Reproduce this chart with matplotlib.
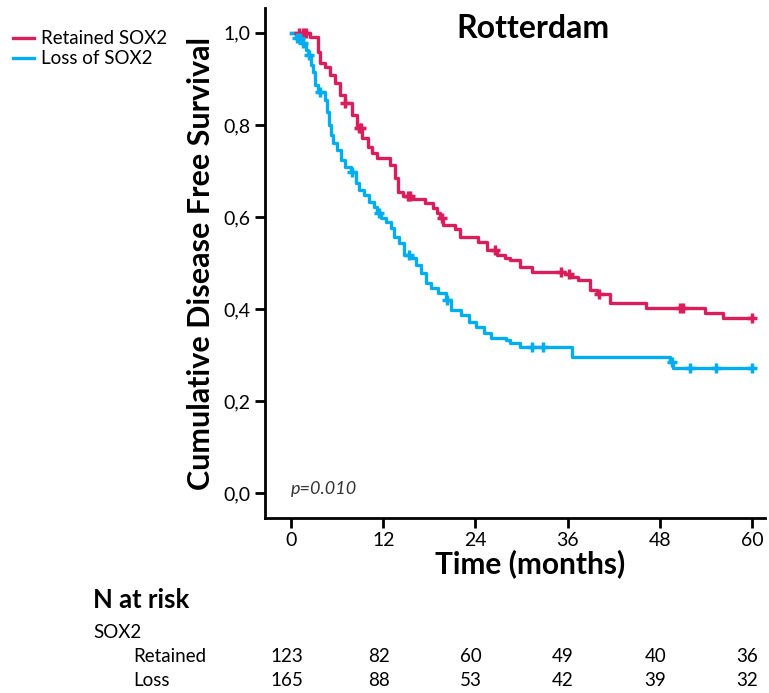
import numpy as np
import matplotlib.pyplot as plt
import matplotlib.transforms as mtransforms

plt.rcParams['font.family'] = ['Lato', 'DejaVu Sans']

# Kaplan-Meier step points (months, survival)
ret_t = [0, 2.5, 3.5, 3.8, 4.4, 5.1, 5.7, 6.4, 7.0, 7.9, 8.6, 9.2, 10.0, 10.5, 11.2,
         12.9, 13.5, 13.9, 14.6, 15.7, 17.4, 18.5, 19.0, 19.4, 19.8, 21.3, 22.0, 24.3,
         25.5, 26.8, 27.9, 28.5, 29.8, 31.4, 35.7, 36.3, 37.4, 38.9, 39.8, 41.5, 46.2,
         53.9, 56.2, 60]
ret_s = [1.0, 0.99, 0.959, 0.935, 0.926, 0.909, 0.891, 0.865, 0.848, 0.822, 0.793, 0.772,
         0.752, 0.739, 0.728, 0.713, 0.685, 0.654, 0.646, 0.639, 0.630, 0.620, 0.609,
         0.598, 0.583, 0.574, 0.557, 0.546, 0.528, 0.517, 0.511, 0.507, 0.491, 0.480,
         0.476, 0.470, 0.463, 0.441, 0.433, 0.413, 0.402, 0.391, 0.380, 0.380]
ret_cens = [1.0, 1.5, 2.0, 7.0, 8.8, 9.1, 15.2, 15.5, 19.6, 26.5, 35.1, 36.2, 40.1, 50.6, 51.0, 60]

loss_t = [0, 0.65, 1.4, 2.0, 2.2, 2.6, 2.9, 3.1, 3.5, 4.4, 4.7, 4.9, 5.2, 5.5, 6.0, 6.5,
          7.0, 7.8, 8.5, 8.9, 9.5, 10.2, 10.8, 11.2, 11.7, 12.4, 13.0, 13.4, 14.1, 14.7,
          15.5, 16.3, 16.9, 17.6, 18.2, 19.1, 20.2, 20.8, 22.1, 23.2, 24.1, 25.1, 26.0,
          28.0, 28.5, 29.8, 36.6, 49.3, 49.7, 60]
loss_s = [1.0, 0.989, 0.978, 0.963, 0.952, 0.930, 0.915, 0.887, 0.872, 0.854, 0.828,
          0.800, 0.778, 0.761, 0.746, 0.724, 0.709, 0.698, 0.674, 0.659, 0.648, 0.633,
          0.622, 0.609, 0.598, 0.589, 0.576, 0.557, 0.543, 0.517, 0.511, 0.496, 0.478,
          0.457, 0.446, 0.435, 0.420, 0.398, 0.387, 0.372, 0.361, 0.348, 0.337, 0.333,
          0.326, 0.317, 0.296, 0.285, 0.272, 0.272]
loss_cens = [0.8, 1.2, 1.6, 2.3, 3.8, 7.9, 11.4, 15.4, 20.3, 31.4, 32.8, 49.6, 51.9, 55.3, 60]

risk_times = [0, 12, 24, 36, 48, 60]
risk_retained = [123, 82, 60, 49, 40, 36]
risk_loss = [165, 88, 53, 42, 39, 32]

red = '#DA1D5B'
blue = '#00AEEF'


def step_value(t, s, x):
    i = np.searchsorted(t, x, side='right') - 1
    return np.array(s)[i]


fig = plt.figure(figsize=(7.69, 6.93), dpi=100)
ax = fig.add_axes([265/769, (693-518)/693, 500/769, 510/693])

ax.step(ret_t, ret_s, where='post', color=red, lw=2.4, label='Retained SOX2')
ax.step(loss_t, loss_s, where='post', color=blue, lw=2.4, label='Loss of SOX2')
ax.plot(ret_cens, step_value(ret_t, ret_s, ret_cens), ls='none', marker='+',
        color=red, ms=7, mew=2.5)
ax.plot(loss_cens, step_value(loss_t, loss_s, loss_cens), ls='none', marker='+',
        color=blue, ms=7, mew=2.5)

ax.set_xlim(-3.4, 61.7)
ax.set_ylim(-0.054, 1.054)
ax.set_xticks(risk_times)
ax.set_yticks([0, 0.2, 0.4, 0.6, 0.8, 1.0])
ax.set_yticklabels(['0,0', '0,2', '0,4', '0,6', '0,8', '1,0'])
for side in ['top', 'right']:
    ax.spines[side].set_visible(False)
for side in ['left', 'bottom']:
    ax.spines[side].set_linewidth(2)
ax.tick_params(width=2, length=7, labelsize=14, colors='black')
ax.tick_params(axis='x', pad=3)

ax.set_xlabel('Time (months)', fontsize=21.5, fontweight='bold')
ax.xaxis.set_label_coords(0.53, -0.062)
ax.set_ylabel('Cumulative Disease Free Survival', fontsize=22, fontweight='bold', labelpad=6)
ax.text(31.5, 1.01, 'Rotterdam', fontsize=23, fontweight='bold', ha='center', va='center')
ax.text(0, 0.01, 'p=0.010', fontsize=13, fontstyle='italic', color='#333333', va='center')

fig.legend(loc='upper left', bbox_to_anchor=(0.0, 0.975), frameon=False, fontsize=13.5,
           handlelength=1.1, handletextpad=0.4, labelspacing=0.15, borderaxespad=0.3)

# N at risk table
fig.text(93/769, 1-600/693, 'N at risk', fontsize=18.5, fontweight='bold', va='center')
fig.text(93/769, 1-632/693, 'SOX2', fontsize=13.5, va='center')
fig.text(133/769, 1-657/693, 'Retained', fontsize=13.5, va='center')
fig.text(133/769, 1-681/693, 'Loss', fontsize=13.5, va='center')
blend = mtransforms.blended_transform_factory(ax.transData, fig.transFigure)
for t, a, b in zip(risk_times, risk_retained, risk_loss):
    ax.text(t - 0.6, 1-657/693, str(a), transform=blend, fontsize=13.5, ha='center', va='center')
    ax.text(t - 0.6, 1-681/693, str(b), transform=blend, fontsize=13.5, ha='center', va='center')

fig.savefig('out.png', dpi=100)
